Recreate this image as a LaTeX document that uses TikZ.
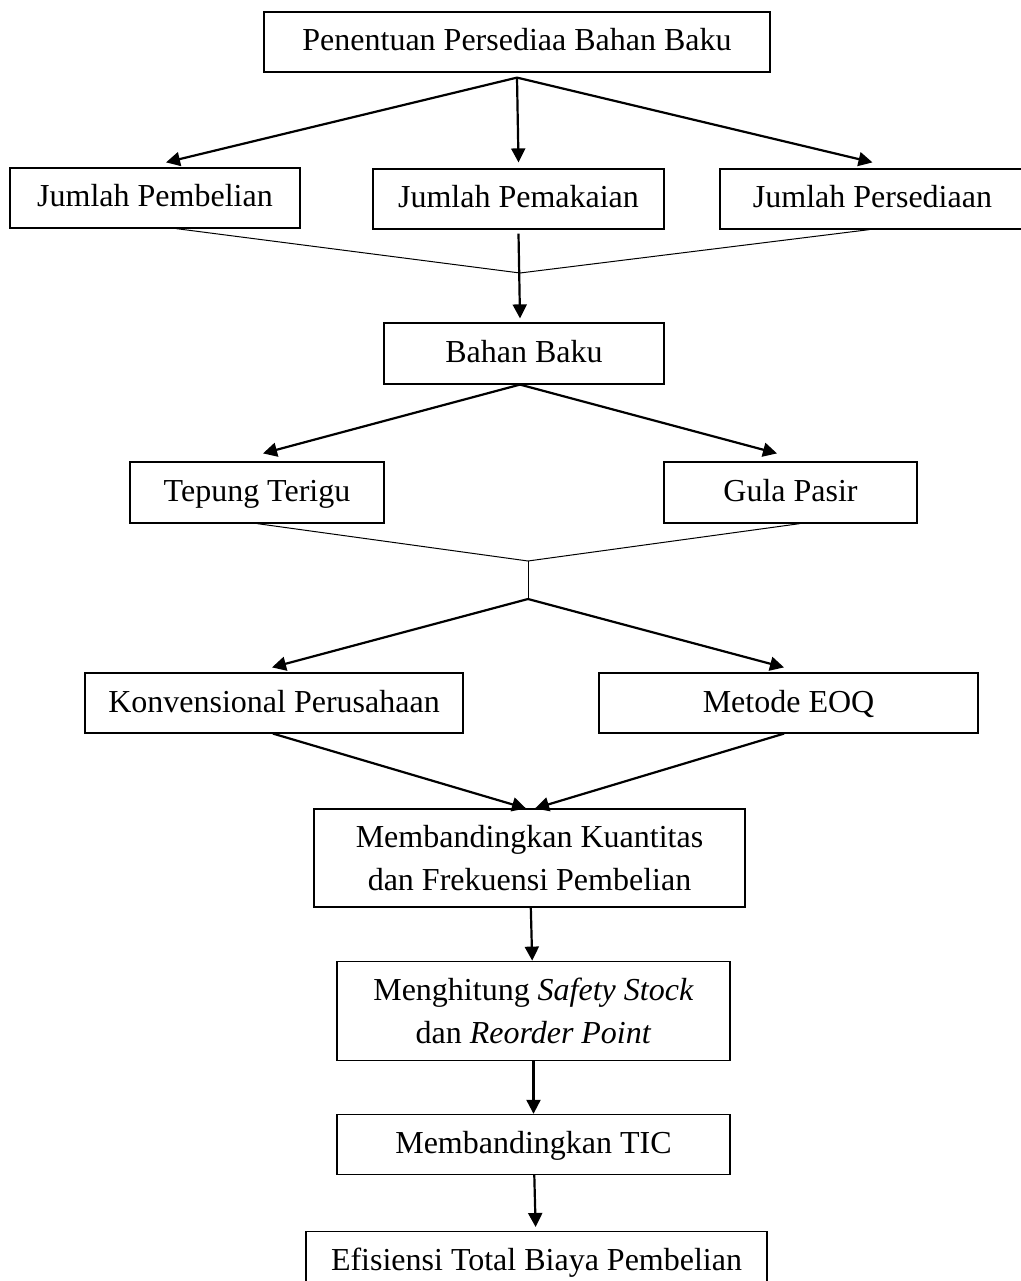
\documentclass[tikz,border=0pt]{standalone}
\usepackage{fontspec}
\setmainfont{Liberation Serif}
\usetikzlibrary{arrows.meta,positioning,calc}

\begin{document}
\begin{tikzpicture}[x=1pt,y=-1pt,font=\fontsize{32}{43}\selectfont, node distance=53pt,
box/.style={draw,line width=1.2pt,minimum height=60pt,align=center,inner sep=0pt},
sbox/.style={box,text height=20pt,text depth=2pt},
arrow/.style={-{Triangle[length=14pt,width=14pt]},line width=2.2pt},
link/.style={line width=1pt}]
\useasboundingbox (0,0) rectangle (1020,1281);
\node[sbox,minimum width=506pt] (top) at (517,42) {Penentuan Persediaa Bahan Baku};
\node[sbox,minimum width=290pt] (beli) at (155,198) {Jumlah Pembelian};
\node[sbox,minimum width=291pt] (pakai) at (518.5,199) {Jumlah Pemakaian};
\node[sbox,minimum width=305pt] (sedia) at (872.5,199) {Jumlah Persediaan};
\coordinate (j1) at (520,273);
\node[sbox,minimum width=280pt,minimum height=61pt] (bahan) at (524,353.5) {Bahan Baku};
\node[sbox,minimum width=254pt,minimum height=61pt] (tepung) at (257,492.5) {Tepung Terigu};
\node[sbox,minimum width=253pt,minimum height=61pt] (gula) at (790.5,492.5) {Gula Pasir};
\coordinate (j2) at (528,561);
\coordinate (j3) at (528,599);
\node[sbox,minimum width=378pt] (konv) at (274,703) {Konvensional Perusahaan};
\node[sbox,minimum width=379pt] (eoq) at (788.5,703) {Metode EOQ};
\node[box,minimum width=431pt,minimum height=98pt] (banding) at (529.5,858) {Membandingkan Kuantitas\\dan Frekuensi Pembelian};
\node[box,minimum width=393pt,minimum height=99pt,below=53pt of banding,xshift=4pt] (hitung) {Menghitung \textit{Safety Stock}\\dan \textit{Reorder Point}};
\node[sbox,minimum width=393pt,below=53pt of hitung] (tic) {Membandingkan TIC};
\node[sbox,minimum width=461pt,below=56pt of tic,xshift=3pt] (efis) {Efisiensi Total Biaya Pembelian};
% top level
\draw[arrow] ([yshift=-5pt]top.south) -- ([xshift=11pt,yshift=5pt]beli.north);
\draw[arrow] ([yshift=-5pt]top.south) -- ([yshift=6pt]pakai.north);
\draw[arrow] ([yshift=-5pt]top.south) -- ([yshift=6pt]sedia.north);
\draw[link] ([xshift=21pt]beli.south) -- (j1) -- ([xshift=-3pt]sedia.south);
\draw[arrow] ([yshift=-4pt]pakai.south) -- ([xshift=-4pt,yshift=4pt]bahan.north);
% bahan baku
\draw[arrow] ([xshift=-4pt]bahan.south) -- ([xshift=6pt,yshift=8pt]tepung.north);
\draw[arrow] ([xshift=-4pt]bahan.south) -- ([xshift=-13.5pt,yshift=8pt]gula.north);
\draw[link] (tepung.south) -- (j2) -- ([xshift=9.5pt]gula.south);
\draw[link] (j2) -- (j3);
\draw[arrow] (j3) -- ([xshift=-2pt,yshift=5pt]konv.north);
\draw[arrow] (j3) -- ([xshift=-4.5pt,yshift=5pt]eoq.north);
% comparison
\draw[arrow] ([xshift=-1pt]konv.south) -- ([xshift=-3.5pt]banding.north);
\draw[arrow] ([xshift=-4.5pt]eoq.south) -- ([xshift=5.5pt]banding.north);
\draw[arrow] (banding) -- (hitung);
\draw[arrow] (hitung) -- (tic);
\draw[arrow,shorten >=4pt] (tic) -- (efis);
\end{tikzpicture}
\end{document}
